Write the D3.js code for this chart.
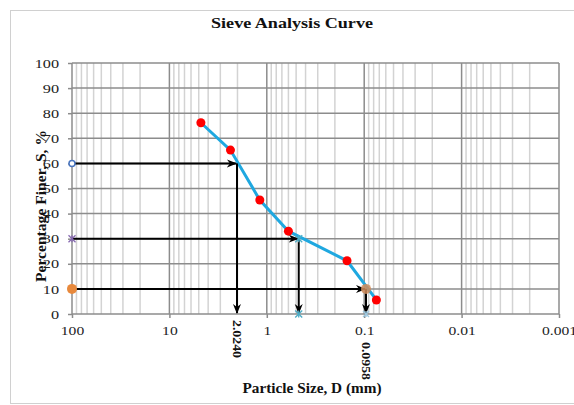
<!DOCTYPE html>
<html lang="en">
<head>
<meta charset="UTF-8">
<title>Sieve Analysis Curve</title>
<script src="https://d3js.org/d3.v7.min.js"></script>
<style>
  body { margin: 0; background: #fff; }
  svg text { font-family: "Liberation Serif", "Times New Roman", serif; }
  .tick text { fill: #222; font-size: 13px; }
  .axis path.domain { display: none; }
  .axis .tick line { stroke: #8c8c8c; stroke-width: 1.5; }
</style>
</head>
<body>
<svg width="574" height="405"></svg>
<script>
// sieve data (mm, % finer)
const sieveSize = [4.75, 2.36, 1.18, 0.6, 0.15, 0.075];
const percentFiner = [76.2, 65.3, 45.4, 33.0, 21.2, 5.6];

// characteristic diameters
const dLevels = [60, 30, 10];
const dSizes = [2.024, 0.47, 0.0958];
const dLabels = ['2.0240', '', '0.0958'];

const xTicks = [100, 10, 1, 0.1, 0.01, 0.001];
const yTicks = [0, 10, 20, 30, 40, 50, 60, 70, 80, 90, 100];

const margin = {top: 63, right: 15, bottom: 91, left: 72};
const width = 574 - margin.left - margin.right;
const height = 405 - margin.top - margin.bottom;

const svg = d3.select('svg');

// chart frame
svg.append('rect')
  .attr('x', 10.5).attr('y', 10.5)
  .attr('width', 600).attr('height', 393)
  .attr('fill', 'none').attr('stroke', '#d0d0d0');

const g = svg.append('g')
  .attr('transform', `translate(${margin.left},${margin.top})`);

const x = d3.scaleLog().domain([100, 0.001]).range([0, width]);
const y = d3.scaleLinear().domain([0, 100]).range([height, 0]);

// stretch text horizontally like the source image
function widen(sel, k) {
  sel.each(function() {
    const w = this.getComputedTextLength();
    d3.select(this).attr('textLength', w * k).attr('lengthAdjust', 'spacingAndGlyphs');
  });
}

// minor vertical grid
const minor = [];
for (let e = -3; e <= 1; e++) {
  for (let m = 2; m <= 9; m++) minor.push(m * Math.pow(10, e));
}
g.append('g').selectAll('line')
  .data(minor)
  .enter().append('line')
  .attr('x1', d => x(d)).attr('x2', d => x(d))
  .attr('y1', 0).attr('y2', height)
  .attr('stroke', '#d3d3d3').attr('stroke-width', 1.5);

// major vertical grid
g.append('g').selectAll('line')
  .data(xTicks)
  .enter().append('line')
  .attr('x1', d => x(d)).attr('x2', d => x(d))
  .attr('y1', 0).attr('y2', height)
  .attr('stroke', '#8c8c8c').attr('stroke-width', 1.5);

// horizontal grid
g.append('g').selectAll('line')
  .data(yTicks)
  .enter().append('line')
  .attr('x1', 0).attr('x2', width)
  .attr('y1', d => y(d)).attr('y2', d => y(d))
  .attr('stroke', '#8c8c8c').attr('stroke-width', 1.5);

// axes
const xAxis = g.append('g')
  .attr('class', 'axis')
  .attr('transform', `translate(0,${height})`)
  .call(d3.axisBottom(x).tickValues(xTicks).tickFormat(d => String(d))
    .tickSizeInner(4).tickSizeOuter(0).tickPadding(8));
widen(xAxis.selectAll('text'), 1.2);

const yAxis = g.append('g')
  .attr('class', 'axis')
  .call(d3.axisLeft(y).tickValues(yTicks).tickSizeInner(4).tickSizeOuter(0).tickPadding(9));
widen(yAxis.selectAll('text'), 1.25);

// arrowheads
const defs = svg.append('defs');
defs.append('marker')
  .attr('id', 'arrow')
  .attr('viewBox', '0 0 10 10')
  .attr('refX', 9).attr('refY', 5)
  .attr('markerWidth', 5).attr('markerHeight', 5)
  .attr('orient', 'auto')
  .append('path').attr('d', 'M0,1 L10,5 L0,9 L3,5 Z').attr('fill', '#000');

// gradation curve
const pts = sieveSize.map((s, i) => ({s: s, p: percentFiner[i]}));
g.append('path')
  .datum(pts)
  .attr('fill', 'none')
  .attr('stroke', '#1fa8e0')
  .attr('stroke-width', 3)
  .attr('d', d3.line().x(d => x(d.s)).y(d => y(d.p)));

// D60 / D30 / D10 construction arrows
dLevels.forEach((lv, i) => {
  g.append('line')
    .attr('x1', x(100)).attr('y1', y(lv))
    .attr('x2', x(dSizes[i]) - 1).attr('y2', y(lv))
    .attr('stroke', '#000').attr('stroke-width', 2)
    .attr('marker-end', 'url(#arrow)');
  g.append('line')
    .attr('x1', x(dSizes[i])).attr('y1', y(lv))
    .attr('x2', x(dSizes[i])).attr('y2', y(0) - 1)
    .attr('stroke', '#000').attr('stroke-width', 2)
    .attr('marker-end', 'url(#arrow)');
});

// markers on the left axis
g.append('circle')
  .attr('cx', x(100)).attr('cy', y(60)).attr('r', 3)
  .attr('fill', '#fff').attr('stroke', '#4a76c0').attr('stroke-width', 1.5);

const star = d3.symbol().type(d3.symbolCross).size(0);
function asterisk(cx, cy, color, r) {
  const a = g.append('g').attr('transform', `translate(${cx},${cy})`);
  [[-r, -r, r, r], [-r, r, r, -r], [0, -r, 0, r]].forEach(l => {
    a.append('line')
      .attr('x1', l[0]).attr('y1', l[1]).attr('x2', l[2]).attr('y2', l[3])
      .attr('stroke', color).attr('stroke-width', 1.3);
  });
}
asterisk(x(100), y(30), '#8668b0', 3.5);
asterisk(x(dSizes[1]), y(30), '#4bacc6', 3.5);
asterisk(x(dSizes[1]), y(0), '#4bacc6', 3.5);
asterisk(x(dSizes[2]), y(0), '#9cc8e0', 3);

g.append('circle')
  .attr('cx', x(100)).attr('cy', y(10)).attr('r', 5)
  .attr('fill', '#e8893c');
g.append('circle')
  .attr('cx', x(dSizes[2])).attr('cy', y(10)).attr('r', 5)
  .attr('fill', '#d08c5a').attr('fill-opacity', 0.85);

// sieve points
g.selectAll('.pt')
  .data(pts)
  .enter().append('circle')
  .attr('class', 'pt')
  .attr('cx', d => x(d.s)).attr('cy', d => y(d.p))
  .attr('r', 4.5)
  .attr('fill', '#ff0000');

// D value labels (rotated)
dLabels.forEach((lab, i) => {
  if (!lab) return;
  const t = g.append('text')
    .attr('transform', `translate(${x(dSizes[i]) - 4},${height + 6 + (i === 2 ? 22 : 0)}) rotate(90)`)
    .attr('font-size', 12).attr('font-weight', 'bold')
    .attr('fill', '#111')
    .text(lab);
  widen(t, 1.15);
});

// title
const title = svg.append('text')
  .attr('x', 292).attr('y', 28)
  .attr('text-anchor', 'middle')
  .attr('font-size', 15).attr('font-weight', 'bold')
  .attr('fill', '#111')
  .text('Sieve Analysis  Curve');
title.attr('textLength', 162).attr('lengthAdjust', 'spacingAndGlyphs');

// axis titles
svg.append('text')
  .attr('x', 312).attr('y', 393)
  .attr('text-anchor', 'middle')
  .attr('font-size', 14).attr('font-weight', 'bold')
  .attr('fill', '#111')
  .attr('textLength', 139).attr('lengthAdjust', 'spacingAndGlyphs')
  .text('Particle Size, D (mm)');

svg.append('text')
  .attr('transform', 'translate(46,206) rotate(-90)')
  .attr('text-anchor', 'middle')
  .attr('font-size', 14).attr('font-weight', 'bold')
  .attr('fill', '#111')
  .attr('textLength', 152).attr('lengthAdjust', 'spacingAndGlyphs')
  .text('Percentage Finer, S, %');
</script>
</body>
</html>
